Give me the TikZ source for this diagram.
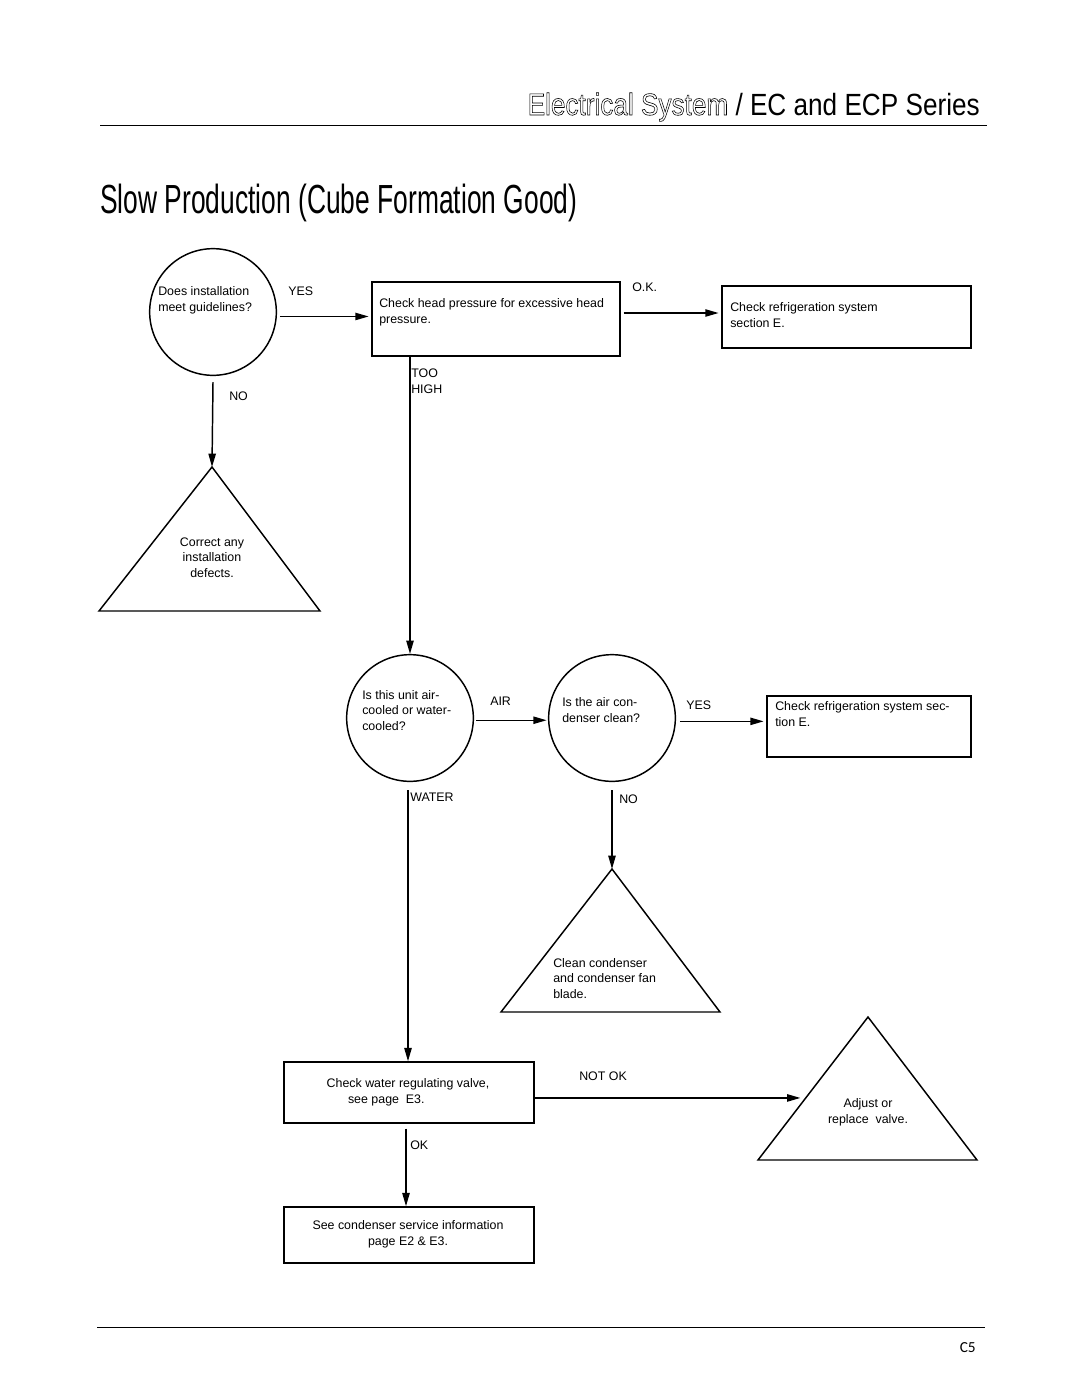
\documentclass[tikz,border=0pt]{standalone}
\usepackage{fontspec}
\setmainfont{Liberation Sans}
\newfontfamily\pagenofont{Carlito}
\usetikzlibrary{arrows.meta,calc}
\newcommand\pbox[5]{\node[box, minimum width={(#4-#2)*0.75pt}, minimum height={(#5-#3)*0.75pt}] (#1) at ({(#2+#4)/2},{(#3+#5)/2}) {};}
\newcommand\outlinetext[1]{\special{pdf:literal direct 1 Tr 0.45 w}#1\special{pdf:literal direct 0 Tr}}
\begin{document}
\begin{tikzpicture}[x=0.75pt,y=-0.75pt,
  every node/.style={font=\fontsize{9.3}{11.5}\selectfont},
  box/.style={draw, line width=1.1pt, rectangle, inner sep=0pt},
  circ/.style={draw, line width=1.1pt, circle, inner sep=0pt, minimum size=95pt},
  tri/.style={draw, line width=1.1pt, line join=miter},
  arr/.style={line width=1.1pt, -{Triangle[length=10pt,width=5.5pt]}},
  txt/.style={inner sep=0pt, anchor=base west, align=left},
  ctxt/.style={inner sep=0pt, anchor=base, align=center},
  rule/.style={line width=0.6pt}]
\useasboundingbox (0,0) rectangle (1080,1397);

% header
\coordinate (hr1) at (100,125);
\coordinate (hr2) at (987,125);
\draw[rule] (hr1) -- (hr2);
\node[inner sep=0pt, anchor=base east] (hdr) at (980,115)
  {\fontsize{23}{23}\selectfont\resizebox{339pt}{\height}{\outlinetext{Electrical System} / EC and ECP Series}};
\node[inner sep=0pt, anchor=base west] (title) at (100,213)
  {\fontsize{30.5}{30.5}\selectfont\resizebox{357.75pt}{\height}{Slow Production (Cube Formation Good)}};

% footer
\coordinate (fr1) at (97,1327);
\coordinate (fr2) at (985,1327);
\draw[rule] (fr1) -- (fr2);
\node[inner sep=0pt, anchor=base east] (pageno) at (976,1352) {\pagenofont\fontsize{11.5}{12}\selectfont C5};

% shapes
\node[circ] (c1) at (213,312) {};
\pbox{b1}{372}{282}{620}{356}
\pbox{b2}{722}{286}{971}{348}
\node[circ] (c2) at (410,718) {};
\node[circ] (c3) at (612,718) {};
\pbox{b3}{767}{696}{971}{757}
\pbox{b4}{284}{1062}{534}{1123}
\pbox{b5}{284}{1207}{534}{1263}

\coordinate (t1a) at (212,467);
\coordinate (t1l) at (99,611);
\coordinate (t1r) at (320,611);
\draw[tri] (t1a) -- (t1r) -- (t1l) -- cycle;
\coordinate (t2a) at (612,869);
\coordinate (t2l) at (501,1012);
\coordinate (t2r) at (720,1012);
\draw[tri] (t2a) -- (t2r) -- (t2l) -- cycle;
\coordinate (t3a) at (868,1017);
\coordinate (t3l) at (758,1160);
\coordinate (t3r) at (977,1160);
\draw[tri] (t3a) -- (t3r) -- (t3l) -- cycle;
\coordinate (t3in) at ($(t3a)!0.566!(t3l)$);

% texts (anchor = baseline of the last line)
\node[txt] (c1t) at (158,311) {Does installation\\meet guidelines?};
\node[txt] (b1t) at (379,323) {Check head pressure for excessive head\\pressure.};
\node[txt] (b2t) at (730,327) {Check refrigeration system\\section E.};
\node[ctxt] (t1t) at (212,577) {Correct any\\installation\\defects.};
\node[txt] (c2t) at (362,730) {Is this unit air-\\cooled or water-\\cooled?};
\node[txt] (c3t) at (562,722) {Is the air con-\\denser clean?};
\node[txt] (b3t) at (775,726) {Check refrigeration system sec-\\tion E.};
\node[txt] (t2t) at (553,998) {Clean condenser\\and condenser fan\\blade.};
\node[ctxt] (b4t) at (408,1103) {Check water regulating valve,\\\hspace*{-3.5em}see page\ \ E3.};
\node[ctxt] (t3t) at (868,1123) {Adjust or\\replace\ \ valve.};
\node[ctxt] (b5t) at (408,1245) {See condenser service information\\page E2 \& E3.};

% labels
\node[txt] (lyes1) at (288,295) {YES};
\node[txt] (lno1) at (229,400) {NO};
\node[txt] (lok1) at (632,291) {O.K.};
\node[txt] (ltoo) at (411,393) {TOO\\HIGH};
\node[txt] (lair) at (490,705) {AIR};
\node[txt] (lyes2) at (686,709) {YES};
\node[txt] (lwater) at (410,801) {WATER};
\node[txt] (lno2) at (619,803) {NO};
\node[txt] (lnotok) at (579,1080) {NOT OK};
\node[txt] (lok2) at (410,1149) {OK};

% connector end points
\coordinate (c1o) at ($(c1.-4)+(3,0)$);
\coordinate (c1d) at ($(c1.south)+(0,6)$);
\coordinate (b1o) at ($(b1.east)+(3,-6)$);
\coordinate (c2o) at ($(c2.-2)+(2,0)$);
\coordinate (c2d) at ($(c2.south)+(-2,8)$);
\coordinate (c3o) at ($(c3.-3)+(4,0)$);
\coordinate (c3d) at ($(c3.south)+(0,8)$);
\coordinate (b4d) at ($(b4.south)+(-3,5)$);

% connectors
\draw[arr, shorten >=2pt] (c1o) -- (c1o -| b1.west);
\draw[arr] (c1d) -- (t1a);
\draw[arr, shorten >=2pt] (b1o) -- (b1o -| b2.west);
\draw[arr] (c2.north |- b1.south) -- (c2.north);
\draw[arr, shorten >=1pt] (c2o) -- (c2o -| c3.west);
\draw[arr, shorten >=2pt] (c3o) -- (c3o -| b3.west);
\draw[arr] (c3d) -- (t2a);
\draw[arr] (c2d) -- (c2d |- b4.north);
\draw[arr, shorten >=4pt] (b4.east |- t3in) -- (t3in);
\draw[arr] (b4d) -- (b4d |- b5.north);
\end{tikzpicture}
\end{document}
